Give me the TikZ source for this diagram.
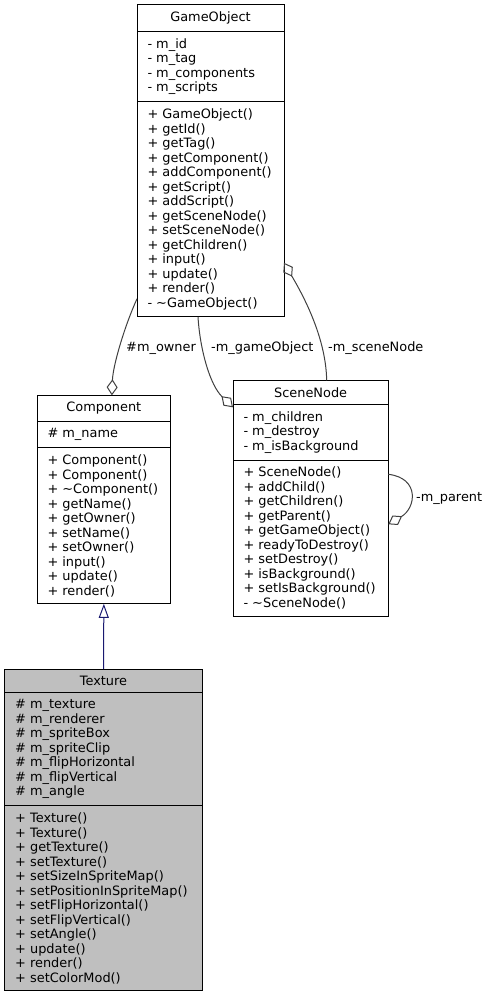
\documentclass[tikz,border=0pt]{standalone}
\usepackage{fontspec}
\setmainfont{DejaVu Sans}
\usetikzlibrary{shapes.multipart,arrows.meta}
\definecolor{edgegrey}{HTML}{404040}
\definecolor{inheritblue}{HTML}{191970}
\definecolor{classgrey}{HTML}{BFBFBF}
\tikzstyle{classstyle}=[draw=black,line width=1pt,rectangle split,rectangle split parts=3,
  rectangle split part align={center,left,left},align=left,anchor=north west,
  inner xsep=10.5pt,inner ysep=6.5pt,outer sep=0pt,font=\fontsize{12.9}{14.5}\selectfont]
\tikzstyle{aggstyle}=[draw=edgegrey,line width=1pt,-{Diamond[open,length=16pt,width=11pt]}]
\tikzstyle{inheritstyle}=[draw=inheritblue,line width=1pt,-{Triangle[open,length=14pt,width=10pt]}]
\tikzstyle{labelstyle}=[anchor=west,inner sep=0pt,font=\fontsize{12.9}{14.5}\selectfont]

\begin{document}
\begin{tikzpicture}[x=1pt,y=-1pt]

      % page is 489 x 1000, one unit is one pixel
      \useasboundingbox (0,0) rectangle (489,1000);

      % Draw classes at nodes
      % define top class
      \node[classstyle,minimum width=147pt] at (137,5) (GameObject) {GameObject
        \nodepart{two}- m\_id\\- m\_tag\\- m\_components\\- m\_scripts
        \nodepart{three}+ GameObject()\\+ getId()\\+ getTag()\\+ getComponent()\\+ addComponent()\\+ getScript()\\+ addScript()\\+ getSceneNode()\\+ setSceneNode()\\+ getChildren()\\+ input()\\+ update()\\+ render()\\- \textasciitilde GameObject()};
      % define second row of classes
      \node[classstyle,minimum width=133.7pt] at (37,395.3) (Component) {Component
        \nodepart{two}\# m\_name
        \nodepart{three}+ Component()\\+ Component()\\+ \textasciitilde Component()\\+ getName()\\+ getOwner()\\+ setName()\\+ setOwner()\\+ input()\\+ update()\\+ render()};
      \node[classstyle,minimum width=155.3pt] at (233,380.3) (SceneNode) {SceneNode
        \nodepart{two}- m\_children\\- m\_destroy\\- m\_isBackground
        \nodepart{three}+ SceneNode()\\+ addChild()\\+ getChildren()\\+ getParent()\\+ getGameObject()\\+ readyToDestroy()\\+ setDestroy()\\+ isBackground()\\+ setIsBackground()\\- \textasciitilde SceneNode()};
      % define bottom class
      \node[classstyle,minimum width=197.6pt,fill=classgrey] at (4.7,669) (Texture) {Texture
        \nodepart{two}\# m\_texture\\\# m\_renderer\\\# m\_spriteBox\\\# m\_spriteClip\\\# m\_flipHorizontal\\\# m\_flipVertical\\\# m\_angle
        \nodepart{three}+ Texture()\\+ Texture()\\+ getTexture()\\+ setTexture()\\+ setSizeInSpriteMap()\\+ setPositionInSpriteMap()\\+ setFlipHorizontal()\\+ setFlipVertical()\\+ setAngle()\\+ update()\\+ render()\\+ setColorMod()};

      % Draw all connectors
      % inheritance
      \draw[inheritstyle] (Texture.north) -- (Component.south);
      % aggregations
      \draw[aggstyle] ([yshift=18pt]GameObject.south west) .. controls (125,325) and (113,365) .. ([xshift=8pt]Component.north);
      \draw[aggstyle] ([xshift=61pt]GameObject.south west) .. controls (200,350) and (210,385) .. ([yshift=-27pt]SceneNode.north west);
      \draw[aggstyle] ([xshift=16pt]SceneNode.north) .. controls (326,335) and (300,290) .. ([yshift=54pt]GameObject.south east);
      \draw[aggstyle] ([yshift=-94pt]SceneNode.north east) .. controls (420,478) and (416,508) .. ([yshift=-144pt]SceneNode.north east);

      % Insert labels
      \node[labelstyle] at (126,348) (ownerlabel) {\#m\_owner};
      \node[labelstyle] at (211,348) (gameobjectlabel) {-m\_gameObject};
      \node[labelstyle] at (328,348) (scenenodelabel) {-m\_sceneNode};
      \node[labelstyle] at (416,498) (parentlabel) {-m\_parent};

\end{tikzpicture}
\end{document}
